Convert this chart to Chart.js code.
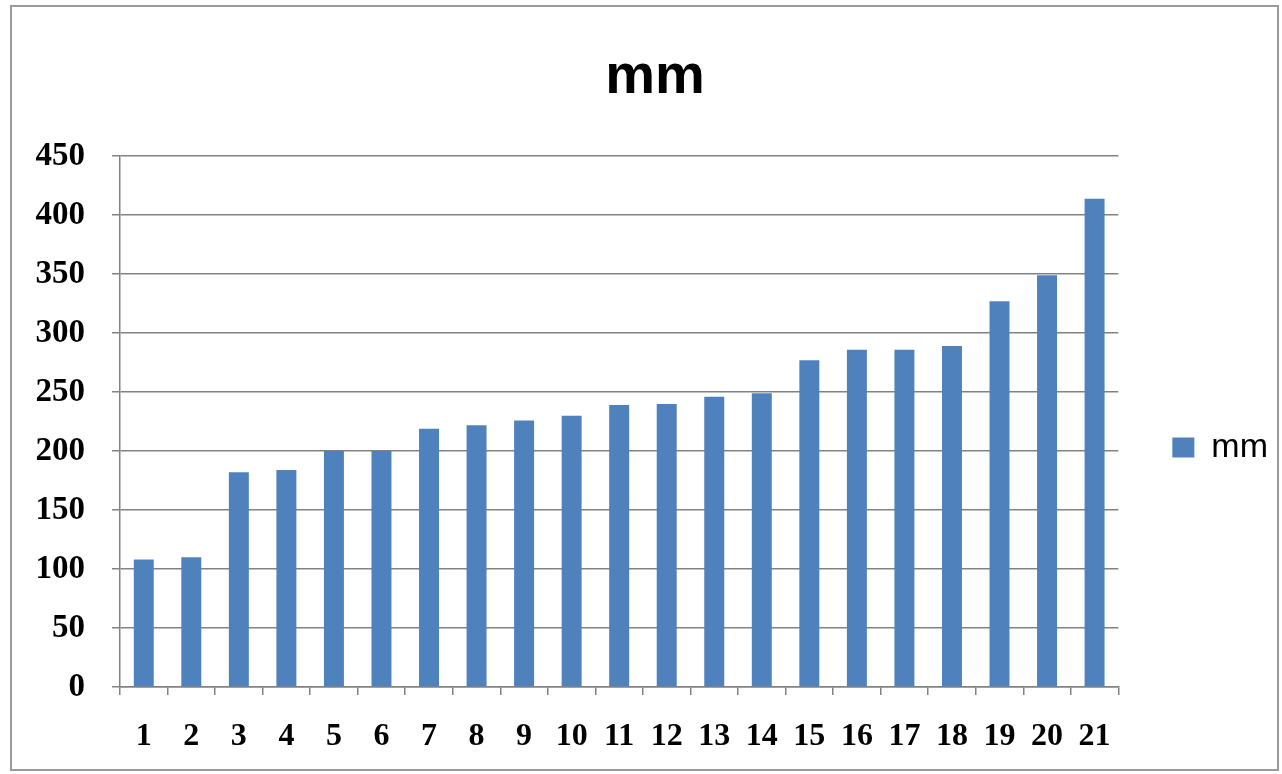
<!DOCTYPE html>
<html>
<head>
<meta charset="utf-8">
<script src="https://cdn.jsdelivr.net/npm/chart.js@4.4.1/dist/chart.umd.min.js"></script>
<style>
  html, body { margin: 0; padding: 0; background: #ffffff; overflow: hidden; }
  #wrap { position: absolute; left: 0; top: 0; width: 1282px; height: 774px; }
</style>
</head>
<body>
<div id="wrap"><canvas id="chart" width="1282" height="774"></canvas></div>
<script>
// Categories along the x axis
const categories = ['1','2','3','4','5','6','7','8','9','10','11','12','13','14','15','16','17','18','19','20','21'];
// Measured values (mm)
const mmValues = [108, 110, 182, 184, 200, 200, 219, 222, 226, 230, 239, 240, 246, 249, 277, 286, 286, 289, 327, 349, 414];
// Value axis range and step
const yMin = 0;
const yMax = 450;
const yStep = 50;

const barColor = '#4F81BD';
const axisColor = '#828282';

// Outer frame around the whole chart
const framePlugin = {
  id: 'frame',
  beforeDraw(chart) {
    const ctx = chart.ctx;
    ctx.save();
    ctx.fillStyle = '#ffffff';
    ctx.fillRect(0, 0, chart.width, chart.height);
    ctx.strokeStyle = '#9a9a9a';
    ctx.lineWidth = 2;
    ctx.strokeRect(11, 6, 1267, 764);
    ctx.restore();
  }
};

new Chart(document.getElementById('chart'), {
  type: 'bar',
  data: {
    labels: categories,
    datasets: [{
      label: 'mm',
      data: mmValues,
      backgroundColor: barColor,
      borderWidth: 0,
      categoryPercentage: 1.0,
      barPercentage: 0.42
    }]
  },
  plugins: [framePlugin],
  options: {
    responsive: false,
    animation: false,
    devicePixelRatio: 1,
    layout: { padding: { left: 32, right: 4, top: 7, bottom: 10 } },
    plugins: {
      title: {
        display: true,
        text: 'mm',
        color: '#000000',
        font: { family: 'Liberation Sans', size: 56, weight: 'bold' },
        padding: { top: 37, bottom: 45 }
      },
      legend: {
        display: true,
        position: 'right',
        // blank legend title only pushes the single entry down a little
        title: {
          display: true,
          text: ' ',
          font: { size: 10 },
          padding: { top: 0, bottom: 112 }
        },
        labels: {
          color: '#000000',
          font: { family: 'Liberation Sans', size: 34 },
          boxWidth: 22,
          boxHeight: 20,
          padding: 54
        }
      },
      tooltip: { enabled: false }
    },
    scales: {
      x: {
        grid: {
          display: true,
          offset: true,
          drawOnChartArea: false,
          drawTicks: true,
          tickLength: 8,
          color: axisColor,
          lineWidth: 1.5
        },
        border: { display: true, color: axisColor, width: 1.5 },
        ticks: {
          color: '#000000',
          font: { family: 'Liberation Serif', size: 32, weight: 'bold' },
          padding: 23,
          maxRotation: 0,
          autoSkip: false
        },
        afterFit(scale) { scale.height = 77; }
      },
      y: {
        min: yMin,
        max: yMax,
        grid: {
          display: true,
          color: axisColor,
          lineWidth: 1.5,
          drawTicks: true,
          tickLength: 8
        },
        border: { display: true, color: axisColor, width: 1.5 },
        ticks: {
          stepSize: yStep,
          color: '#000000',
          font: { family: 'Liberation Serif', size: 33, weight: 'bold' },
          padding: 27
        },
        afterFit(scale) { scale.width = 88; }
      }
    }
  }
});
</script>
</body>
</html>
